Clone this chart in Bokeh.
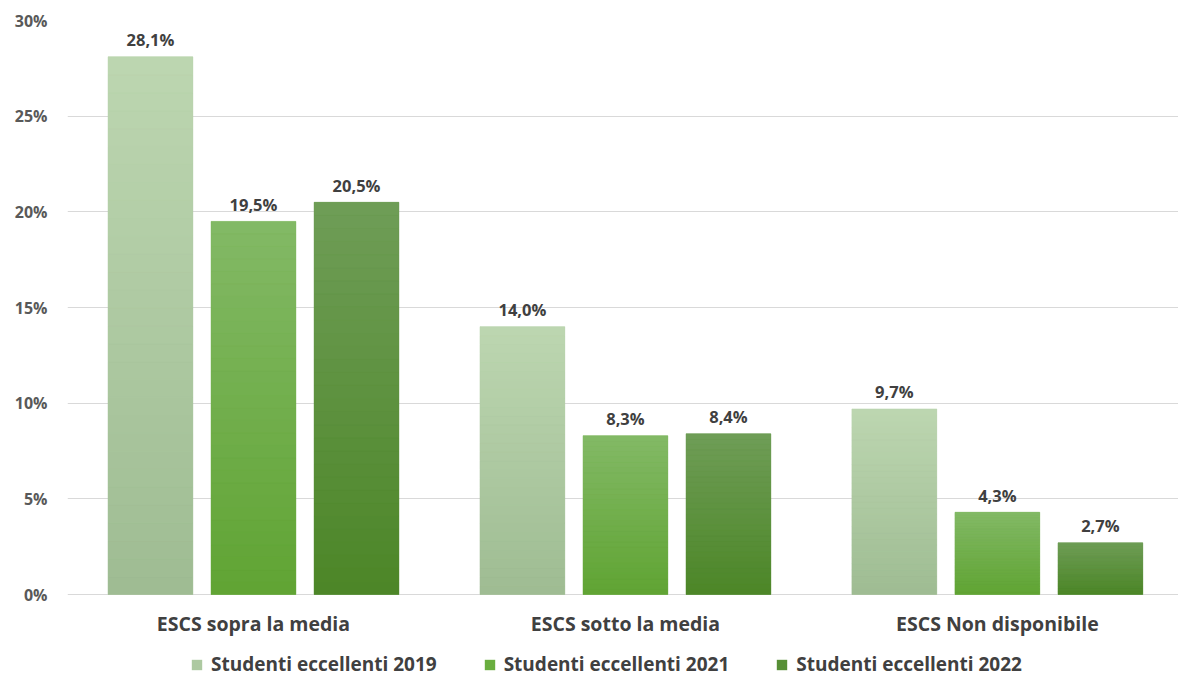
from bokeh.plotting import figure
from bokeh.models import Range1d, FixedTicker, ColumnDataSource, Legend, LegendItem
from bokeh.core.properties import value
from bokeh.embed import file_html
from bokeh.resources import INLINE

categories = ["ESCS sopra la media", "ESCS sotto la media", "ESCS Non disponibile"]
series_names = ["Studenti eccellenti 2019", "Studenti eccellenti 2021", "Studenti eccellenti 2022"]
values_2019 = [28.1, 14.0, 9.7]
values_2021 = [19.5, 8.3, 4.3]
values_2022 = [20.5, 8.4, 2.7]
y_ticks = [0, 5, 10, 15, 20, 25, 30]

series_values = [values_2019, values_2021, values_2022]
top_colors = ["#BDD6B1", "#83B966", "#6F9D57"]
bottom_colors = ["#9EBC92", "#60A433", "#4C8627"]
mid_colors = ["#ADC9A1", "#6AAE3F", "#578F36"]
offsets = [-0.277, 0.0, 0.277]
bar_w = 0.228

FONT = "Open Sans"

p = figure(width=1178, height=689, output_backend="svg", toolbar_location=None,
           x_range=Range1d(0, 2.987), y_range=Range1d(-4.965, 30),
           min_border_left=67, min_border_right=0, min_border_top=20, min_border_bottom=0)
p.outline_line_color = None
p.background_fill_color = "white"
p.border_fill_color = "white"


def hex2rgb(h):
    h = h.lstrip("#")
    return tuple(int(h[i:i + 2], 16) for i in (0, 2, 4))


def lerp(c1, c2, t):
    a, b = hex2rgb(c1), hex2rgb(c2)
    return "#%02x%02x%02x" % tuple(int(round(a[i] + (b[i] - a[i]) * t)) for i in range(3))


# grid
p.xgrid.grid_line_color = None
p.ygrid.grid_line_color = "#D9D9D9"
p.ygrid.grid_line_width = 1
p.ygrid.ticker = FixedTicker(ticks=y_ticks)

N = 30
legend_items = []
for s, vals in enumerate(series_values):
    xs = [i + 0.5 + offsets[s] for i in range(len(categories))]
    base = p.vbar(x=xs, top=vals, bottom=0, width=bar_w, fill_color=mid_colors[s], line_color=None)
    legend_items.append(LegendItem(label=series_names[s], renderers=[base]))
    sx, sb, st, sc = [], [], [], []
    for i, v in enumerate(vals):
        for k in range(N):
            sx.append(xs[i])
            sb.append(v * k / N)
            st.append(v * (k + 1) / N)
            sc.append(lerp(bottom_colors[s], top_colors[s], (k + 0.5) / N))
    p.vbar(x="x", bottom="b", top="t", width=bar_w, fill_color="c", line_color="c", line_width=0.5,
           source=ColumnDataSource(dict(x=sx, b=sb, t=st, c=sc)))
    labels = [("%.1f" % v).replace(".", ",") + "%" for v in vals]
    p.text(x=xs, y=vals, text=labels, text_align="center", text_baseline="middle", y_offset=-17,
           text_font=value(FONT), text_font_style="bold", text_font_size="16.5px", text_color="#404040")

# category labels (x axis)
p.text(x=[i + 0.5 for i in range(len(categories))], y=[0] * len(categories), text=categories,
       text_align="center", text_baseline="middle", y_offset=29,
       text_font=value(FONT), text_font_style="bold", text_font_size="19.5px", text_color="#404040")
p.xaxis.visible = False

# y axis
p.yaxis.ticker = FixedTicker(ticks=y_ticks)
p.yaxis.major_label_overrides = {t: f"{t}%" for t in y_ticks}
p.yaxis.axis_line_color = None
p.yaxis.major_tick_line_color = None
p.yaxis.minor_tick_line_color = None
p.yaxis.major_label_standoff = 14
p.yaxis.major_label_text_font = FONT
p.yaxis.major_label_text_font_style = "bold"
p.yaxis.major_label_text_font_size = "16px"
p.yaxis.major_label_text_color = "#595959"

legend = Legend(items=legend_items, orientation="horizontal", location=(123, 12),
                label_text_font=FONT, label_text_font_style="bold", label_text_font_size="19px",
                label_text_color="#404040", glyph_width=13, glyph_height=13, label_standoff=8,
                spacing=46, margin=0, padding=4, border_line_color=None, background_fill_alpha=0)
p.add_layout(legend, "center")

open("out.html", "w").write(file_html(p, INLINE))
